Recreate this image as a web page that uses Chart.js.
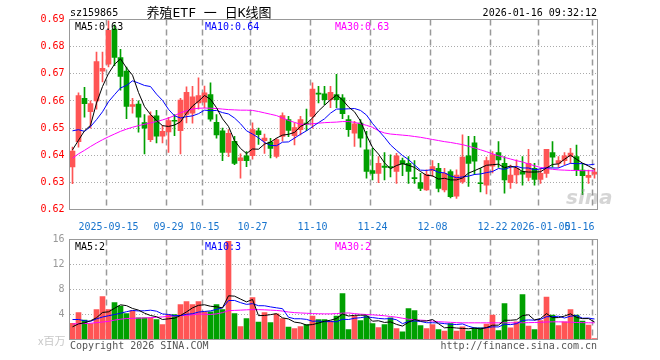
<!DOCTYPE html>
<html>
<head>
<meta charset="utf-8">
<script src="https://cdn.jsdelivr.net/npm/chart.js@4.4.1/dist/chart.umd.min.js"></script>
<style>
  body { margin: 0; background: #fff; }
  #wrap { position: relative; width: 660px; height: 360px; }
  canvas { position: absolute; left: 0; }
  #kline { top: 0; z-index: 2; }
  #vol { top: 225px; z-index: 1; }
</style>
</head>
<body>
<div id="wrap">
  <canvas id="kline" width="660" height="235"></canvas>
  <canvas id="vol" width="660" height="135"></canvas>
</div>
<script>
// trading days 2025-09-05 .. 2026-01-16
const dates = [
  '09-05','09-08','09-09','09-10','09-11','09-12','09-15','09-16','09-17','09-18',
  '09-19','09-22','09-23','09-24','09-25','09-26','09-29','09-30','10-09','10-10',
  '10-13','10-14','10-15','10-16','10-17','10-20','10-21','10-22','10-23','10-24',
  '10-27','10-28','10-29','10-30','10-31','11-03','11-04','11-05','11-06','11-07',
  '11-10','11-11','11-12','11-13','11-14','11-17','11-18','11-19','11-20','11-21',
  '11-24','11-25','11-26','11-27','11-28','12-01','12-02','12-03','12-04','12-05',
  '12-08','12-09','12-10','12-11','12-12','12-15','12-16','12-17','12-18','12-19',
  '12-22','12-23','12-24','12-25','12-26','12-29','12-30','12-31','01-05','01-06',
  '01-07','01-08','01-09','01-12','01-13','01-14','01-15','01-16'
];
const labelDates = ['09-15','09-29','10-15','10-27','11-10','11-24','12-08','12-22','01-05','01-16'];
const labelTexts = ['2025-09-15','09-29','10-15','10-27','11-10','11-24','12-08','12-22','2026-01-05','01-16'];

const open = [
  0.6357,0.645,0.661,0.656,0.660,0.671,0.6735,0.6865,0.676,0.671,
  0.658,0.6588,0.652,0.6457,0.6545,0.647,0.6486,0.6528,0.649,0.655,
  0.6555,0.6593,0.6595,0.6623,0.6521,0.649,0.641,0.6451,0.638,0.6398,
  0.6398,0.649,0.6454,0.6448,0.6396,0.6469,0.6531,0.6472,0.6494,0.6518,
  0.6543,0.6628,0.6626,0.6605,0.6623,0.6611,0.6531,0.6481,0.6518,0.642,
  0.6343,0.6333,0.636,0.6357,0.634,0.638,0.637,0.6316,0.6299,0.6272,
  0.6343,0.6352,0.6272,0.634,0.6249,0.6302,0.6398,0.6446,0.6298,0.629,
  0.636,0.641,0.637,0.6299,0.6327,0.634,0.6318,0.6352,0.6311,0.6333,
  0.641,0.637,0.638,0.6396,0.6395,0.6345,0.6318,0.633
];
const high = [
  0.643,0.663,0.665,0.660,0.678,0.678,0.6895,0.688,0.679,0.6725,
  0.661,0.660,0.655,0.656,0.6565,0.651,0.654,0.655,0.661,0.6652,
  0.6654,0.6685,0.6655,0.6667,0.655,0.650,0.6494,0.647,0.6405,0.6413,
  0.6519,0.650,0.6478,0.6462,0.6462,0.6556,0.6543,0.6519,0.6543,0.657,
  0.6667,0.6654,0.6654,0.6654,0.6698,0.6623,0.6546,0.6525,0.6531,0.6488,
  0.6426,0.6395,0.641,0.6401,0.6407,0.6389,0.6395,0.638,0.6333,0.6346,
  0.638,0.637,0.6352,0.6346,0.6346,0.6475,0.647,0.647,0.6352,0.6393,
  0.6413,0.645,0.6395,0.6364,0.6383,0.6395,0.6422,0.637,0.6352,0.6422,
  0.645,0.6395,0.641,0.6425,0.6437,0.637,0.6345,0.6352
];
const low = [
  0.6295,0.643,0.654,0.650,0.657,0.667,0.6725,0.673,0.664,0.6535,
  0.6555,0.6485,0.6405,0.645,0.6445,0.6445,0.641,0.6472,0.6405,0.6519,
  0.6518,0.657,0.6574,0.6525,0.6463,0.638,0.6395,0.6365,0.6315,0.6358,
  0.6385,0.644,0.6407,0.639,0.639,0.6452,0.6468,0.6438,0.6475,0.649,
  0.650,0.6593,0.6586,0.6575,0.6575,0.6535,0.6469,0.6432,0.643,0.6315,
  0.6309,0.6299,0.6309,0.632,0.6296,0.6325,0.6296,0.6296,0.6269,0.627,
  0.6322,0.6265,0.6265,0.6243,0.6241,0.6296,0.6285,0.6328,0.6265,0.6257,
  0.6335,0.6355,0.626,0.6278,0.6296,0.629,0.6305,0.629,0.6296,0.6318,
  0.6356,0.6355,0.6365,0.637,0.6325,0.6255,0.6296,0.6315
];
const close = [
  0.6415,0.662,0.659,0.659,0.6745,0.672,0.686,0.676,0.669,0.658,
  0.6587,0.654,0.650,0.6545,0.647,0.6488,0.6528,0.6525,0.6603,0.6632,
  0.6615,0.662,0.663,0.6533,0.6475,0.641,0.6481,0.637,0.639,0.638,
  0.6494,0.6476,0.6463,0.6425,0.6458,0.6546,0.6491,0.6502,0.6531,0.6515,
  0.6644,0.6625,0.6605,0.6632,0.6605,0.6553,0.6494,0.6516,0.6463,0.634,
  0.6333,0.637,0.6355,0.6354,0.6398,0.6368,0.634,0.6314,0.6278,0.633,
  0.6358,0.6278,0.6333,0.6247,0.6327,0.6393,0.637,0.6378,0.6295,0.638,
  0.6401,0.6383,0.6309,0.6327,0.6352,0.633,0.637,0.6311,0.6333,0.6422,
  0.6393,0.638,0.6398,0.6408,0.6345,0.6325,0.6326,0.6338
];
const ma5 = [
  0.642,0.6455,0.649,0.651,0.6592,0.6653,0.6701,0.6735,0.6755,0.6722,
  0.6695,0.6631,0.6579,0.655,0.6528,0.6509,0.6506,0.6511,0.6523,0.6555,
  0.6581,0.6599,0.662,0.6606,0.6575,0.6534,0.6506,0.6454,0.6425,0.6406,
  0.6423,0.6422,0.6441,0.6448,0.6463,0.6474,0.6477,0.6484,0.6506,0.6517,
  0.6537,0.6563,0.6584,0.6604,0.6622,0.6604,0.6578,0.656,0.6526,0.6473,
  0.6429,0.6404,0.6372,0.635,0.6362,0.6369,0.6363,0.6355,0.634,0.6326,
  0.6324,0.6312,0.6315,0.6309,0.6309,0.6316,0.6334,0.6343,0.6353,0.6363,
  0.6365,0.6367,0.6354,0.636,0.6354,0.634,0.6338,0.6338,0.6339,0.6353,
  0.6366,0.6368,0.6385,0.64,0.6385,0.6371,0.636,0.6348
];
const ma10 = [
  0.649,0.6494,0.6488,0.6505,0.6531,0.656,0.6597,0.6623,0.6648,0.6657,
  0.6674,0.6666,0.6657,0.6653,0.6625,0.6602,0.6569,0.6545,0.6537,0.6542,
  0.6545,0.6553,0.6566,0.6564,0.6565,0.6557,0.6552,0.6537,0.6516,0.649,
  0.6478,0.6464,0.6447,0.6436,0.6435,0.6448,0.6449,0.6463,0.6477,0.649,
  0.6505,0.652,0.6534,0.6555,0.657,0.657,0.6571,0.6572,0.6565,0.6548,
  0.6517,0.6491,0.6466,0.6438,0.6418,0.6399,0.6384,0.6364,0.6345,0.6344,
  0.6347,0.6337,0.6335,0.6324,0.6317,0.632,0.6323,0.6329,0.6331,0.6336,
  0.634,0.6351,0.6348,0.6356,0.6359,0.6353,0.6353,0.6346,0.635,0.6354,
  0.6353,0.6353,0.6362,0.637,0.6369,0.6369,0.6364,0.6367
];
const ma30 = [
  0.6389,0.6405,0.6418,0.6432,0.6445,0.6457,0.6468,0.6478,0.6488,0.6496,
  0.6503,0.6509,0.6514,0.6519,0.6524,0.653,0.6537,0.6546,0.6556,0.6564,
  0.657,0.6573,0.6574,0.6573,0.6572,0.657,0.6568,0.6567,0.6566,0.6566,
  0.6565,0.6561,0.6556,0.6551,0.6546,0.6537,0.6528,0.6521,0.6514,0.6514,
  0.6516,0.6518,0.652,0.6521,0.6522,0.6524,0.6524,0.6521,0.6516,0.651,
  0.6503,0.649,0.6482,0.6478,0.6476,0.6474,0.6472,0.6469,0.6466,0.6462,
  0.6458,0.6454,0.645,0.6447,0.6443,0.6439,0.6433,0.6427,0.642,0.6413,
  0.6405,0.6398,0.6392,0.6386,0.638,0.6375,0.6368,0.6361,0.6355,0.6351,
  0.6348,0.6346,0.6345,0.6344,0.6344,0.6343,0.6343,0.6342
];

// volume, x 百万
const volume = [
  2.6,4.32,3.1,2.56,4.8,6.88,4.8,5.92,5.33,4.16,
  4.64,3.47,3.47,3.47,3.2,2.4,4.0,4.0,5.6,6.08,
  5.6,6.08,4.43,4.43,5.6,4.8,15.7,4.16,2.08,3.36,
  6.72,2.78,4.32,2.72,4.1,3.36,1.97,1.76,2.08,2.4,
  3.73,3.2,3.2,2.93,3.73,7.36,1.6,3.73,3.04,3.73,
  2.56,1.92,2.4,3.47,1.76,1.22,4.96,4.64,2.24,1.76,
  2.4,1.6,1.33,2.56,1.33,2.03,1.33,1.87,1.87,2.45,
  3.89,1.44,5.76,1.87,2.83,7.2,2.13,1.6,3.04,6.77,
  3.89,2.24,2.83,4.8,3.89,2.93,2.29,0.16
];
const volMa5 = [
  2.03,2.5,2.67,3.0,3.48,4.33,4.43,4.99,5.55,5.42,
  4.97,4.7,4.21,3.84,3.65,3.2,3.31,3.41,3.84,4.42,
  5.06,5.47,5.56,5.32,5.23,5.07,6.99,6.94,6.47,6.02,
  6.4,3.82,3.85,3.98,4.13,3.46,3.29,2.78,2.65,2.31,
  2.39,2.63,2.92,3.09,3.36,4.08,3.76,3.87,3.89,3.89,
  2.93,3.0,2.73,2.82,2.42,2.15,2.76,3.21,2.96,2.96,
  3.2,2.53,1.87,1.93,1.84,1.77,1.72,1.82,1.69,1.91,
  2.28,2.3,3.08,3.08,3.16,3.82,3.96,3.13,3.36,4.15,
  3.49,3.51,3.75,4.11,3.53,3.34,3.35,2.81
];
const volMa10 = [
  3.2,3.2,3.0,2.9,3.3,3.6,3.8,4.0,4.2,4.45,
  4.65,4.57,4.6,4.69,4.53,4.09,4.01,3.81,3.84,4.03,
  4.13,4.39,4.49,4.58,4.82,5.06,6.23,6.25,5.9,5.62,
  5.74,5.41,5.4,5.22,5.07,4.93,3.56,3.32,3.32,3.22,
  2.92,2.96,2.85,2.87,2.84,3.24,3.2,3.4,3.49,3.63,
  3.51,3.38,3.3,3.35,3.16,2.54,2.88,2.97,2.89,2.69,
  2.68,2.65,2.54,2.45,2.4,2.49,2.12,1.85,1.81,1.88,
  2.03,2.01,2.45,2.38,2.53,3.05,3.13,3.1,3.22,3.65,
  3.65,3.73,3.44,3.73,3.84,3.41,3.43,3.28
];
const volMa30 = [
  2.5,2.5,2.55,2.6,2.7,2.8,2.9,3.1,3.25,3.35,
  3.4,3.42,3.45,3.5,3.55,3.62,3.7,3.76,3.82,3.88,
  3.95,4.08,4.05,4.0,4.1,4.3,4.62,4.66,4.7,4.75,
  4.78,4.78,4.75,4.7,4.65,4.55,4.4,4.3,4.25,4.2,
  4.15,4.12,4.1,4.1,4.15,4.22,4.25,4.15,4.05,4.0,
  3.95,3.88,3.8,3.68,3.57,3.4,3.25,3.15,3.1,3.04,
  2.95,2.85,2.8,2.75,2.7,2.67,2.67,2.67,2.67,2.67,
  2.67,2.67,2.67,2.67,2.67,2.68,2.7,2.72,2.75,2.8,
  2.83,2.83,2.8,2.77,2.72,2.7,2.68,2.67
];

const RED = '#ff5555';
const GREEN = '#00a000';
const MONO = '"DejaVu Sans Mono", "Noto Sans CJK SC", monospace';
Chart.defaults.font.family = MONO;
Chart.defaults.font.size = 10;

const candleColors = open.map((o, i) => close[i] >= o ? RED : GREEN);
const bodies = open.map((o, i) => [o, close[i]]);
const wicks = low.map((l, i) => [l, high[i]]);
const labelIdx = labelDates.map(d => dates.indexOf(d));

// dashed date lines under the marks
const dateLines = {
  id: 'dateLines',
  beforeDraw(chart) {
    const { ctx, chartArea: a, scales } = chart;
    ctx.save();
    ctx.strokeStyle = '#999999';
    ctx.lineWidth = 1.5;
    ctx.setLineDash([6, 4]);
    for (const i of labelIdx) {
      const x = scales.x.getPixelForValue(i) - 2;
      ctx.beginPath();
      ctx.moveTo(x, a.top);
      ctx.lineTo(x, a.bottom);
      ctx.stroke();
    }
    ctx.restore();
  }
};

// frame round the plot and the free texts
const framePlugin = {
  id: 'frame',
  afterDraw(chart, args, opts) {
    const { ctx, chartArea: a } = chart;
    ctx.save();
    ctx.strokeStyle = '#999';
    ctx.lineWidth = 1;
    ctx.strokeRect(a.left, a.top, a.right - a.left, a.bottom - a.top);
    (opts.texts || []).forEach(t => {
      ctx.font = t.font || '10px ' + MONO;
      ctx.fillStyle = t.color;
      ctx.textAlign = t.align || 'left';
      ctx.textBaseline = 'alphabetic';
      ctx.fillText(t.text, t.x, t.y);
    });
    ctx.restore();
  }
};

function maLine(data, color) {
  return { type: 'line', data, borderColor: color, borderWidth: 1, pointRadius: 0, tension: 0, fill: false, order: 0 };
}

function xScale(showTicks, h) {
  return {
    offset: true,
    grid: { display: false },
    border: { display: false },
    ticks: {
      display: showTicks,
      autoSkip: false,
      maxRotation: 0,
      align: 'inner',
      padding: 4,
      color: '#1874cd',
      callback: (v, i) => {
        const k = labelIdx.indexOf(i);
        return k >= 0 ? labelTexts[k] : '';
      }
    },
    afterFit: s => { s.height = h; }
  };
}

// K-line
new Chart(document.getElementById('kline'), {
  type: 'bar',
  data: {
    labels: dates,
    datasets: [
      maLine(ma5, '#000'),
      maLine(ma10, '#0000ff'),
      maLine(ma30, '#ff00ff'),
      { data: bodies, backgroundColor: candleColors, barThickness: 5, minBarLength: 1, grouped: false, order: 1 },
      { data: wicks, backgroundColor: candleColors, barThickness: 1, grouped: false, order: 2 }
    ]
  },
  options: {
    responsive: false,
    animation: false,
    devicePixelRatio: 1,
    layout: { padding: { left: 0, right: 62.5, top: 19.5, bottom: 0 } },
    plugins: {
      legend: { display: false },
      tooltip: { enabled: false },
      frame: {
        texts: [
          { text: 'sz159865', x: 70, y: 16, color: '#000' },
          { text: '养殖ETF 一 日K线图', x: 209, y: 17, color: '#000', align: 'center', font: '13px ' + MONO },
          { text: '2026-01-16 09:32:12', x: 597, y: 16, color: '#000', align: 'right' },
          { text: 'MA5:' + ma5[ma5.length - 1].toFixed(2), x: 75, y: 30, color: '#000' },
          { text: 'MA10:' + ma10[ma10.length - 1].toFixed(2), x: 205, y: 30, color: '#0000ff' },
          { text: 'MA30:' + ma30[ma30.length - 1].toFixed(2), x: 335, y: 30, color: '#ff00ff' },
          { text: 'sina', x: 566, y: 204, color: 'rgba(150,150,150,0.4)', font: 'italic bold 20px "DejaVu Sans"' }
        ]
      }
    },
    scales: {
      x: xScale(true, 25.5),
      y: {
        min: 0.62,
        max: 0.69,
        grid: { drawTicks: false, color: '#aaa' },
        border: { display: false, dash: [1, 2] },
        ticks: { stepSize: 0.01, padding: 5, color: '#ff0000', callback: v => v.toFixed(2) },
        afterFit: s => { s.width = 69.5; }
      }
    }
  },
  plugins: [dateLines, framePlugin]
});

// volume
new Chart(document.getElementById('vol'), {
  type: 'bar',
  data: {
    labels: dates,
    datasets: [
      maLine(volMa5, '#000'),
      maLine(volMa10, '#0000ff'),
      maLine(volMa30, '#ff00ff'),
      { data: volume, backgroundColor: candleColors, barThickness: 5, order: 1 }
    ]
  },
  options: {
    responsive: false,
    animation: false,
    devicePixelRatio: 1,
    layout: { padding: { left: 0, right: 62.5, top: 14.5, bottom: 0 } },
    plugins: {
      legend: { display: false },
      tooltip: { enabled: false },
      frame: {
        texts: [
          { text: 'MA5:' + Math.floor(volMa5[volMa5.length - 1]), x: 75, y: 25, color: '#000' },
          { text: 'MA10:' + Math.floor(volMa10[volMa10.length - 1]), x: 205, y: 25, color: '#0000ff' },
          { text: 'MA30:' + Math.floor(volMa30[volMa30.length - 1]), x: 335, y: 25, color: '#ff00ff' },
          { text: 'x百万', x: 38, y: 120, color: '#c8c8c8', font: '11px "Noto Sans CJK SC"' },
          { text: 'Copyright 2026 SINA.COM', x: 70, y: 124, color: '#555' },
          { text: 'http://finance.sina.com.cn', x: 597, y: 124, color: '#555', align: 'right' }
        ]
      }
    },
    scales: {
      x: xScale(false, 20.5),
      y: {
        min: 0,
        max: 16,
        grid: { drawTicks: false, color: '#aaa' },
        border: { display: false, dash: [1, 2] },
        ticks: { stepSize: 4, padding: 5, color: '#999', callback: v => v === 0 ? '' : v },
        afterFit: s => { s.width = 69.5; }
      }
    }
  },
  plugins: [dateLines, framePlugin]
});
</script>
</body>
</html>
